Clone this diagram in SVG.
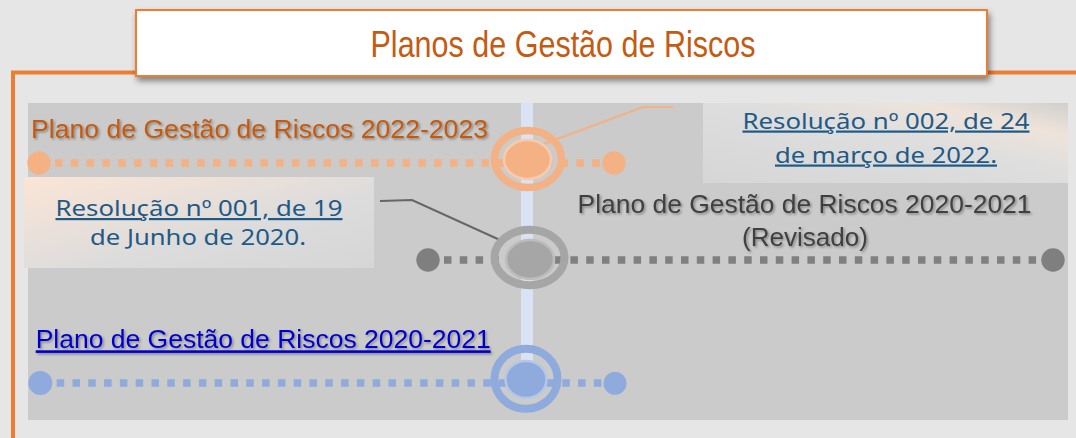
<svg xmlns="http://www.w3.org/2000/svg" width="1076" height="438" viewBox="0 0 1076 438">
<defs>
<style>
.sans{font-family:"Liberation Sans",Arial,sans-serif}
.cal{font-family:"Noto Sans","Open Sans",sans-serif;font-size:22px;fill:#1f5a86}
.dash{fill:none;stroke-width:7.5;stroke-dasharray:7.5 8.3}
.conn{fill:none;stroke-width:2}
</style>
<filter id="boxShadow" x="-5%" y="-20%" width="110%" height="150%">
<feDropShadow dx="2" dy="4" stdDeviation="3" flood-color="#000" flood-opacity="0.45"/>
</filter>
<filter id="txtShadow" x="-5%" y="-20%" width="110%" height="150%">
<feDropShadow dx="1.5" dy="1.5" stdDeviation="1" flood-color="#000" flood-opacity="0.35"/>
</filter>
<linearGradient id="g001" x1="0" y1="0" x2="1" y2="1">
<stop offset="0" stop-color="#fbe5d6"/>
<stop offset="0.6" stop-color="#dcdcdc"/>
<stop offset="1" stop-color="#d6d6d6"/>
</linearGradient>
<linearGradient id="g002" x1="0" y1="1" x2="1" y2="0">
<stop offset="0" stop-color="#d6d6d6"/>
<stop offset="0.55" stop-color="#dedede"/>
<stop offset="0.8" stop-color="#eee3da"/>
<stop offset="1" stop-color="#d0cfce"/>
</linearGradient>
</defs>
<rect width="1076" height="438" fill="#e6e6e6"/>
<path d="M13,438 V72.5 H1076" fill="none" stroke="#ed7d31" stroke-width="4"/>
<rect x="28" y="103" width="1040" height="317" fill="#cbcbcb"/>
<rect x="703" y="103" width="365" height="80" fill="url(#g002)"/>
<rect x="24" y="177" width="350" height="91" fill="url(#g001)"/>

<g id="title">
<rect x="136" y="10" width="851" height="66" fill="#ffffff" stroke="#ed7d31" stroke-width="2" filter="url(#boxShadow)"/>
<text class="sans" x="563" y="57" font-size="37" fill="#c55a11" text-anchor="middle" textLength="385" lengthAdjust="spacingAndGlyphs">Planos de Gestão de Riscos</text>
</g>

<g id="axis">
<rect x="521" y="103" width="12" height="276" fill="#dae3f3"/>
</g>

<g id="connectors">
<polyline class="conn" points="541,145 643,107 673,107" stroke="#f4b183"/>
<polyline class="conn" points="380,201 412,200 500,240" stroke="#666666"/>
</g>

<g id="node-2022">
<line class="dash" x1="55" y1="163" x2="600" y2="163" stroke="#f4b183"/>
<circle cx="39" cy="163" r="11.7" fill="#f4b183"/>
<circle cx="614" cy="163" r="11.7" fill="#f4b183"/>
<ellipse cx="528" cy="159" rx="33.5" ry="28.5" fill="none" stroke="#f4b183" stroke-width="7.5"/>
<ellipse cx="527.5" cy="159.5" rx="23.5" ry="19.5" fill="#f4b183" stroke="#f8cbad" stroke-width="2.5"/>
<text class="sans" x="31" y="137.5" font-size="26.5" fill="#c55a11" textLength="457" lengthAdjust="spacingAndGlyphs" filter="url(#txtShadow)">Plano de Gestão de Riscos 2022-2023</text>
</g>

<g id="res-002">
<text class="cal" x="886" y="128.5" text-anchor="middle" textLength="287" lengthAdjust="spacingAndGlyphs" text-decoration="underline">Resolução nº 002, de 24</text>
<text class="cal" x="886" y="162.5" text-anchor="middle" textLength="222" lengthAdjust="spacingAndGlyphs" text-decoration="underline">de março de 2022.</text>
</g>

<g id="res-001">
<text class="cal" x="199" y="216" text-anchor="middle" textLength="287" lengthAdjust="spacingAndGlyphs" text-decoration="underline">Resolução nº 001, de 19</text>
<text class="cal" x="198" y="245" text-anchor="middle" textLength="216" lengthAdjust="spacingAndGlyphs">de Junho de 2020.</text>
</g>

<g id="node-2020-rev">
<line class="dash" x1="444" y1="260" x2="1045" y2="260" stroke="#808080"/>
<circle cx="428" cy="260" r="11.7" fill="#7f7f7f"/>
<circle cx="1053" cy="260" r="11.7" fill="#7f7f7f"/>
<ellipse cx="529.5" cy="257.5" rx="35" ry="27.7" fill="none" stroke="#a6a6a6" stroke-width="8"/>
<ellipse cx="530" cy="259.5" rx="24" ry="19.5" fill="#a6a6a6" stroke="#bdbdbd" stroke-width="2.5"/>
<text class="sans" x="804.5" y="213.3" font-size="26" fill="#404040" text-anchor="middle" textLength="454" lengthAdjust="spacingAndGlyphs" filter="url(#txtShadow)">Plano de Gestão de Riscos 2020-2021</text>
<text class="sans" x="805" y="246" font-size="26" fill="#404040" text-anchor="middle" textLength="126" lengthAdjust="spacingAndGlyphs" filter="url(#txtShadow)">(Revisado)</text>
</g>

<g id="node-2020">
<line class="dash" x1="56.7" y1="383" x2="604" y2="383" stroke="#8faadc"/>
<circle cx="40.3" cy="383" r="12" fill="#8faadc"/>
<circle cx="615" cy="383.3" r="11.5" fill="#8faadc"/>
<ellipse cx="526" cy="378.8" rx="31.5" ry="30" fill="none" stroke="#8faadc" stroke-width="8"/>
<ellipse cx="526" cy="379.5" rx="20.5" ry="18.5" fill="#8faadc" stroke="#b4c7e7" stroke-width="2.5"/>
<text class="sans" x="35.7" y="348.3" font-size="26" fill="#0000cc" textLength="455" lengthAdjust="spacingAndGlyphs" text-decoration="underline" filter="url(#txtShadow)">Plano de Gestão de Riscos 2020-2021</text>
</g>
</svg>
